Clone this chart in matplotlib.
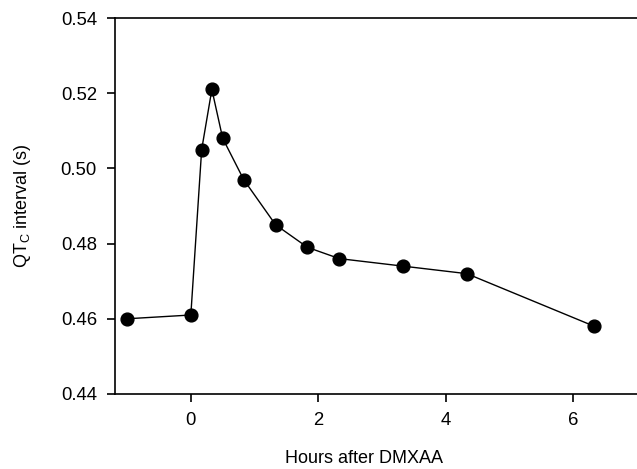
import matplotlib
matplotlib.use("Agg")
import matplotlib.pyplot as plt

hours = [-1, 0, 0.17, 0.33, 0.5, 0.83, 1.33, 1.83, 2.33, 3.33, 4.33, 6.33]
qtc = [0.460, 0.461, 0.505, 0.521, 0.508, 0.497, 0.485, 0.479, 0.476, 0.474, 0.472, 0.458]
xticks = [0, 2, 4, 6]
yticks = [0.44, 0.46, 0.48, 0.50, 0.52, 0.54]

plt.rcParams['font.family'] = ['Liberation Sans', 'DejaVu Sans']
fig = plt.figure(figsize=(6.37, 4.69), dpi=100)
ax = fig.add_axes([0.1805, 0.16, 0.8195, 0.8016])
ax.plot(hours, qtc, color='black', lw=1.0, marker='o', markersize=9.2,
        markerfacecolor='black', markeredgecolor='black', clip_on=False)
ax.set_xlim(-1.19, 7.0)
ax.set_ylim(0.44, 0.54)
ax.set_xticks(xticks)
ax.set_xticklabels([str(t) for t in xticks])
ax.set_yticks(yticks)
ax.set_yticklabels([f"{t:.2f}" for t in yticks])
ax.spines['right'].set_visible(False)
for s in ['left', 'bottom', 'top']:
    ax.spines[s].set_linewidth(1.2)
ax.tick_params(direction='out', length=6, width=1.2, labelsize=13.3, pad=7)
ax.set_xlabel('Hours after DMXAA', fontsize=13)
ax.set_ylabel('QT$_\\mathregular{C}$ interval (s)', fontsize=13)
ax.xaxis.set_label_coords(0.477, -0.148)
ax.yaxis.set_label_coords(-0.157, 0.5)
fig.savefig('out.png', dpi=100)
